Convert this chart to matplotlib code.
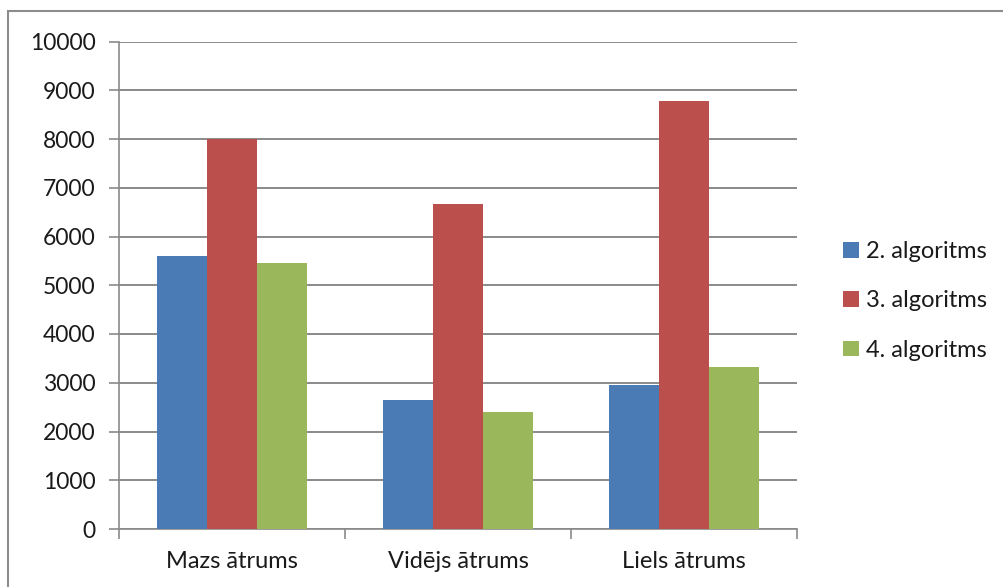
import matplotlib
matplotlib.use("Agg")
import matplotlib.pyplot as plt
from matplotlib.patches import Rectangle
import numpy as np

categories = ["Mazs ātrums", "Vidējs ātrums", "Liels ātrums"]
series_names = ["2. algoritms", "3. algoritms", "4. algoritms"]
alg2 = [5590, 2640, 2960]
alg3 = [7990, 6670, 8770]
alg4 = [5460, 2410, 3320]
colors = ["#4a7bb5", "#bb4f4c", "#9bb75c"]
y_ticks = [0, 1000, 2000, 3000, 4000, 5000, 6000, 7000, 8000, 9000, 10000]

plt.rcParams["font.family"] = ["Lato", "DejaVu Sans"]

W, H = 1004, 587
fig = plt.figure(figsize=(W / 100, H / 100), dpi=100)
ax = fig.add_axes([119 / W, 1 - 529 / H, (797 - 119) / W, (529 - 41.5) / H])

# outer chart frame
fig.patches.append(Rectangle((8 / W, -0.1), 1.2, 1 - 11 / H + 0.1,
                             transform=fig.transFigure, fill=False,
                             edgecolor="#8c8c8c", linewidth=1.5))

x = np.arange(len(categories))
bw = 1 / 4.5
for i, (vals, name) in enumerate(zip([alg2, alg3, alg4], series_names)):
    ax.bar(x + (i - 1) * bw, vals, width=bw, color=colors[i], label=name,
           zorder=3, edgecolor="none")

ax.set_xlim(-0.5, len(categories) - 0.5)
ax.set_ylim(0, 10000)
ax.set_yticks(y_ticks)
ax.set_yticklabels([str(v) for v in y_ticks], fontsize=16.5, color="#1a1a1a")
ax.yaxis.grid(True, color="#8a8a8a", linewidth=1.4, zorder=0)
ax.set_axisbelow(True)

ax.set_xticks(x)
ax.set_xticklabels(categories, fontsize=17, color="#1a1a1a")
ax.tick_params(axis="x", length=0, pad=16)
ax.tick_params(axis="y", length=7, color="#8a8a8a", width=1.2, pad=10)
# category boundary ticks
ax.set_xticks(np.arange(len(categories) + 1) - 0.5, minor=True)
ax.tick_params(axis="x", which="minor", length=7, color="#8a8a8a", width=1.2)

for s in ["top", "right"]:
    ax.spines[s].set_visible(False)
for s in ["left", "bottom"]:
    ax.spines[s].set_color("#8a8a8a")
    ax.spines[s].set_linewidth(1.2)

leg = fig.legend(loc="center left", bbox_to_anchor=(822 / W, 1 - 301 / H),
                 frameon=False, fontsize=17, handlelength=0.65,
                 handleheight=0.65, handletextpad=0.3, labelspacing=1.2)
for t in leg.get_texts():
    t.set_color("#1a1a1a")

fig.savefig("out.png", dpi=100)
